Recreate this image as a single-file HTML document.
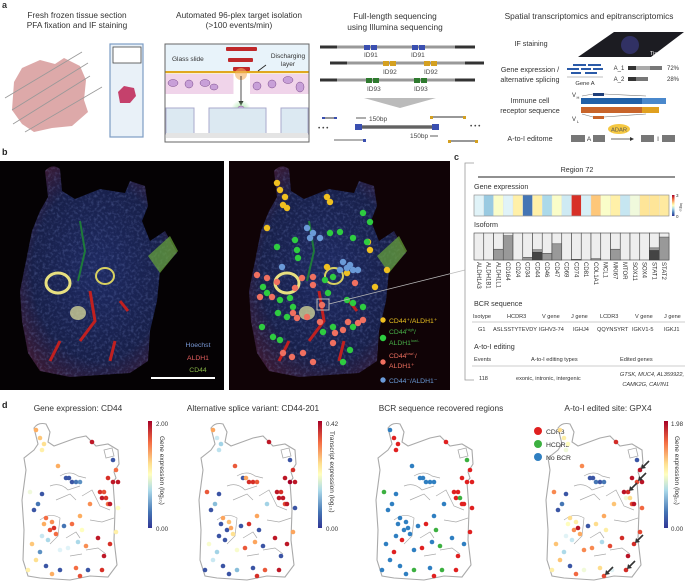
<!DOCTYPE html>
<html><head><meta charset="utf-8"><style>
html,body{margin:0;padding:0;background:#fff}
svg{display:block;font-family:"Liberation Sans",sans-serif}
</style></head><body>
<svg id="fig" width="685" height="584" viewBox="0 0 685 584">
<defs>
<linearGradient id="cbar" x1="0" y1="0" x2="0" y2="1">
<stop offset="0" stop-color="#a50026"/><stop offset="0.2" stop-color="#f46d43"/><stop offset="0.4" stop-color="#fee090"/><stop offset="0.5" stop-color="#ffffbf"/><stop offset="0.65" stop-color="#abd9e9"/><stop offset="0.85" stop-color="#4575b4"/><stop offset="1" stop-color="#313695"/>
</linearGradient>
<radialGradient id="tisg" cx="0.5" cy="0.5" r="0.6"><stop offset="0" stop-color="#1e2a62"/><stop offset="0.7" stop-color="#18204a"/><stop offset="1" stop-color="#3a1a34"/></radialGradient>
<radialGradient id="glow" cx="0.5" cy="0.5" r="0.5"><stop offset="0" stop-color="#9fe39f"/><stop offset="1" stop-color="#9fe39f" stop-opacity="0"/></radialGradient>
<filter id="tex"><feTurbulence type="fractalNoise" baseFrequency="0.35" numOctaves="2" seed="3"/><feColorMatrix values="0 0 0 0 0.3  0 0 0 0 0.4  0 0 0 0 0.85  0 0 0 1.1 -0.5"/><feComposite in2="SourceGraphic" operator="in"/></filter>
<g id="tissueB">
<path d="M45 10 Q52 2 60 8 L62 30 L75 38 L100 28 L125 32 L130 20 L145 25 L148 45 L142 60 L150 80 L165 70 L177 92 L160 110 L157 140 L150 170 L148 200 L130 212 L100 214 L70 216 L40 210 L28 192 L22 160 L20 130 L26 100 L32 70 L40 50 L48 36 Z" fill="url(#tisg)"/>
<path d="M45 10 Q52 2 60 8 L62 30 L75 38 L100 28 L125 32 L130 20 L145 25 L148 45 L142 60 L150 80 L165 70 L177 92 L160 110 L157 140 L150 170 L148 200 L130 212 L100 214 L70 216 L40 210 L28 192 L22 160 L20 130 L26 100 L32 70 L40 50 L48 36 Z" fill="#fff" filter="url(#tex)" opacity="0.55"/>
<path d="M148 95 L170 75 L178 90 L160 112 Z" fill="#6aa83a" opacity="0.7"/>
<ellipse cx="58" cy="122" rx="12" ry="10" fill="none" stroke="#e8e080" stroke-width="3"/>
<ellipse cx="78" cy="152" rx="8" ry="7" fill="#e8e8a0" opacity="0.7"/>
<ellipse cx="105" cy="115" rx="9" ry="8" fill="none" stroke="#d8d060" stroke-width="2"/>
<path d="M90 130 L95 160 L80 180 M60 180 L50 200 M110 200 L115 180 M120 140 L128 150" stroke="#c02020" stroke-width="3" fill="none"/>
<path d="M80 60 L85 90 L78 120" stroke="#1e7a3a" stroke-width="2" fill="none"/>
</g>
<g id="tisD" fill="none" stroke="#aaa" stroke-width="1.1">
<path d="M14 8 Q18 2 26 4 L30 12 L28 22 L34 26 L56 18 L66 16 L76 26 L88 24 L98 30 L99 44 L94 52 L96 58 L93 62 L95 90 L94 120 L97 145 L88 157 L70 156 L50 160 L20 158 L8 156 L3 140 L4 110 L2 80 L6 50 L4 38 L14 30 L18 24 L16 16 Z"/>
<path d="M84 30 L92 28 L94 36 L86 38 Z" stroke-width="0.8"/>
<path d="M40 56 Q50 50 58 56 L66 58 M30 66 Q40 62 48 70 L60 66 M36 80 L50 74 L56 80 M62 76 L72 70 L80 86 L90 90 M70 100 L82 102 L94 98 M20 100 Q30 92 40 98 L38 116 L30 124 M46 118 L56 112 L60 118 M66 130 L78 128 L86 134 M50 136 L62 134" stroke-width="0.7"/>
</g>
</defs>

<!-- PANEL A -->
<g fill="#333" font-size="8.3">
<text x="2" y="8" font-weight="bold" font-size="9">a</text>
<text x="77" y="18" text-anchor="middle">Fresh frozen tissue section</text>
<text x="77" y="28" text-anchor="middle">PFA fixation and IF staining</text>
<text x="239" y="18" text-anchor="middle">Automated 96-plex target isolation</text>
<text x="239" y="28" text-anchor="middle">(&gt;100 events/min)</text>
<text x="395" y="19" text-anchor="middle">Full-length sequencing</text>
<text x="395" y="30" text-anchor="middle">using Illumina sequencing</text>
<text x="589" y="19" text-anchor="middle">Spatial transcriptomics and epitranscriptomics</text>
</g>
<g>
<path d="M14 82 L22 68 L40 60 L55 64 L64 58 L80 66 L86 80 L84 100 L88 112 L72 126 L52 128 L34 132 L22 124 L12 110 Z" fill="#d79a9a" opacity="0.85"/>
<g stroke="#999" stroke-width="0.8"><line x1="5" y1="98" x2="82" y2="52"/><line x1="12" y1="110" x2="88" y2="63"/><line x1="13" y1="124" x2="90" y2="76"/><line x1="25" y1="132" x2="102" y2="87"/></g>
</g>
<g>
<rect x="110" y="44" width="33" height="93" fill="#e9f1f8" stroke="#7d9cc4" stroke-width="1.2"/>
<rect x="113" y="47" width="28" height="16" fill="#fff" stroke="#444" stroke-width="0.8"/>
<path d="M118 92 L124 86 L134 88 L136 96 L130 103 L120 103 Z" fill="#c5416c"/>
</g>
<g>
<rect x="165" y="44" width="144" height="98" fill="#fff" stroke="#666"/>
<rect x="165.5" y="44.5" width="143" height="27" fill="#e8f3fa"/>
<rect x="165.5" y="71" width="143" height="2.2" fill="#e0a820"/>
<rect x="165.5" y="74" width="68" height="20" fill="#f0d4ea"/>
<rect x="250" y="74" width="58.5" height="20" fill="#f0d4ea"/>
<g fill="#c8a0d8" stroke="#7a4a8a" stroke-width="0.5"><ellipse cx="173" cy="83" rx="5" ry="3.5"/><ellipse cx="189" cy="84" rx="4" ry="4"/><ellipse cx="205" cy="83" rx="5" ry="3.5"/><ellipse cx="214" cy="87" rx="4" ry="3"/><ellipse cx="257" cy="86" rx="4" ry="4"/><ellipse cx="272" cy="84" rx="4" ry="4"/><ellipse cx="288" cy="80" rx="5" ry="3.5"/><ellipse cx="300" cy="87" rx="4" ry="5"/></g>
<g fill="#c0282a"><rect x="226" y="47" width="31" height="4" rx="1"/><rect x="228" y="58" width="25" height="4" rx="1"/><rect x="233" y="67" width="17" height="4" rx="1"/></g>
<circle cx="241" cy="74" r="6" fill="#f5b060" opacity="0.6"/>
<line x1="241" y1="76" x2="241" y2="103" stroke="#222" stroke-width="0.8"/><path d="M238.5 101 L241 106 L243.5 101 Z" fill="#222"/>
<circle cx="241" cy="110" r="10" fill="url(#glow)"/><circle cx="241" cy="110" r="4" fill="#d0b0e0" stroke="#7a4a8a" stroke-width="0.5"/>
<g fill="#dce9f2" stroke="#aac"><rect x="166" y="108" width="28" height="26"/><rect x="209" y="108" width="57" height="26"/><rect x="281" y="108" width="27" height="26"/></g>
<rect x="166" y="133" width="142" height="5" fill="#e4e4e4"/>
<text x="172" y="61" font-size="6.5" fill="#333">Glass slide</text>
<text x="288" y="58" font-size="6.5" fill="#333" text-anchor="middle">Discharging</text>
<text x="288" y="66" font-size="6.5" fill="#333" text-anchor="middle">layer</text>
<line x1="266" y1="65" x2="258" y2="71" stroke="#222" stroke-width="0.8"/>
</g>
<g font-size="6.5" fill="#444">
<g stroke-width="3"><line x1="320" y1="47" x2="337" y2="47" stroke="#333"/><line x1="337" y1="47" x2="455" y2="47" stroke="#999"/><line x1="455" y1="47" x2="475" y2="47" stroke="#333"/>
<line x1="330" y1="63" x2="347" y2="63" stroke="#333"/><line x1="347" y1="63" x2="465" y2="63" stroke="#999"/><line x1="465" y1="63" x2="484" y2="63" stroke="#333"/>
<line x1="320" y1="80" x2="337" y2="80" stroke="#333"/><line x1="337" y1="80" x2="455" y2="80" stroke="#999"/><line x1="455" y1="80" x2="475" y2="80" stroke="#333"/></g>
<g fill="#3a4fb0"><rect x="364" y="45" width="6" height="5"/><rect x="371" y="45" width="6" height="5"/><rect x="412" y="45" width="6" height="5"/><rect x="419" y="45" width="6" height="5"/></g>
<g fill="#d4a020"><rect x="383" y="61" width="6" height="5"/><rect x="390" y="61" width="6" height="5"/><rect x="424" y="61" width="6" height="5"/><rect x="431" y="61" width="6" height="5"/></g>
<g fill="#2e7a2e"><rect x="366" y="78" width="6" height="5"/><rect x="373" y="78" width="6" height="5"/><rect x="414" y="78" width="6" height="5"/><rect x="421" y="78" width="6" height="5"/></g>
<text x="364" y="57">ID91</text><text x="411" y="57">ID91</text>
<text x="383" y="74">ID92</text><text x="424" y="74">ID92</text>
<text x="367" y="91">ID93</text><text x="414" y="91">ID93</text>
<path d="M364 98 L436 98 L400 108 Z" fill="#bbb"/>
<line x1="324" y1="118" x2="336" y2="118" stroke="#777" stroke-width="1.5"/><rect x="322" y="117" width="3" height="2" fill="#3a4fb0"/><rect x="334" y="117" width="3" height="2" fill="#3a4fb0"/>
<line x1="356" y1="118" x2="366" y2="118" stroke="#333" stroke-width="0.8"/><text x="369" y="121">150bp</text>
<line x1="358" y1="127" x2="436" y2="127" stroke="#222" stroke-width="3"/><line x1="358" y1="127" x2="436" y2="127" stroke="#ccc" stroke-width="0.8"/><rect x="355" y="124" width="7" height="6" fill="#3a4fb0"/><rect x="432" y="124" width="7" height="6" fill="#3a4fb0"/>
<text x="410" y="138">150bp</text><line x1="430" y1="136" x2="438" y2="136" stroke="#333" stroke-width="0.8"/>
<line x1="432" y1="117" x2="464" y2="117" stroke="#777" stroke-width="1.5"/><rect x="430" y="116" width="3" height="3" fill="#d4a020"/><rect x="463" y="116" width="3" height="3" fill="#d4a020"/>
<line x1="449" y1="141" x2="476" y2="141" stroke="#777" stroke-width="1.5"/><rect x="448" y="140" width="3" height="3" fill="#d4a020"/><rect x="475" y="140" width="3" height="3" fill="#d4a020"/>
<line x1="334" y1="140" x2="365" y2="140" stroke="#999" stroke-width="1.5"/><rect x="363" y="139" width="3" height="3" fill="#3a4fb0"/>
<text x="318" y="130">• • •</text><text x="470" y="128">• • •</text>
</g>
<g font-size="7.2" fill="#333" text-anchor="middle">
<text x="531" y="46">IF staining</text>
<path d="M578 57 L614 32 L684 32 L651 57 Z" fill="#1c1c22"/><circle cx="630" cy="45" r="9" fill="#3a3a80" opacity="0.7"/>
<text x="658" y="55" font-size="5.5" fill="#fff">Tissue</text>
<text x="530" y="72">Gene expression /</text><text x="530" y="82">alternative splicing</text>
<g fill="#2a5aa8"><rect x="573" y="64" width="13" height="2"/><rect x="588" y="64" width="13" height="2"/><rect x="567" y="68" width="12" height="2"/><rect x="581" y="68" width="10" height="2"/><rect x="593" y="68" width="10" height="2"/><rect x="571" y="72" width="10" height="2"/><rect x="585" y="72" width="12" height="2"/></g>
<line x1="567" y1="77" x2="603" y2="77" stroke="#aaa" stroke-width="0.8"/>
<text x="585" y="85" font-size="5.8">Gene A</text>
<text x="619" y="70" font-size="6">A_1</text><text x="619" y="81" font-size="6">A_2</text>
<rect x="628" y="66" width="8" height="4" fill="#333"/><rect x="636" y="66" width="14" height="4" fill="#aaa"/><rect x="650" y="66" width="12" height="4" fill="#777"/>
<rect x="628" y="77" width="8" height="4" fill="#333"/><rect x="636" y="77" width="12" height="4" fill="#777"/>
<text x="673" y="70" font-size="6">72%</text><text x="673" y="81" font-size="6">28%</text>
<text x="530" y="103">Immune cell</text><text x="530" y="113">receptor sequence</text>
<text x="574" y="97" font-size="6">V</text><text x="578" y="99" font-size="4">H</text>
<rect x="593" y="93" width="11" height="3" fill="#1f3f7a"/><path d="M582 96 L593 94 M604 94 L646 96" stroke="#777" stroke-width="0.6"/>
<rect x="581" y="98" width="61" height="6" fill="#2060a8"/><rect x="642" y="98" width="24" height="6" fill="#4a88cc"/>
<rect x="581" y="107" width="61" height="6" fill="#c8642a"/><rect x="642" y="107" width="17" height="6" fill="#e0a020"/>
<rect x="593" y="116" width="11" height="3" fill="#c8642a"/><path d="M582 114 L593 117 M604 117 L646 114" stroke="#777" stroke-width="0.6"/>
<text x="574" y="121" font-size="6">V</text><text x="578" y="123" font-size="4">L</text>
<text x="530" y="141">A-to-I editome</text>
<rect x="571" y="135" width="14" height="7" fill="#777"/><text x="589" y="141" font-size="6.5">A</text><rect x="593" y="135" width="12" height="7" fill="#777"/>
<line x1="611" y1="139" x2="632" y2="139" stroke="#333" stroke-width="0.8"/><path d="M630 137 L634 139 L630 141 Z" fill="#333"/>
<ellipse cx="619" cy="129" rx="11" ry="5" fill="#f5c842"/><text x="619" y="131.5" font-size="5.8" fill="#555">ADAR</text>
<rect x="641" y="135" width="13" height="7" fill="#777"/><text x="658" y="141" font-size="6.5">I</text><rect x="662" y="135" width="13" height="7" fill="#777"/>
</g>

<!-- PANEL B -->
<text x="2" y="155" font-weight="bold" font-size="9" fill="#222">b</text>
<g>
<rect x="0" y="161" width="224" height="229" fill="#050204"/>
<use href="#tissueB" x="0" y="161"/>
<text x="198" y="347" font-size="6.8" fill="#7a9ad8" text-anchor="middle">Hoechst</text>
<text x="198" y="360" font-size="6.8" fill="#e86060" text-anchor="middle">ALDH1</text>
<text x="198" y="372" font-size="6.8" fill="#8ab848" text-anchor="middle">CD44</text>
<rect x="151" y="377" width="64" height="2" fill="#fff"/>
</g>
<g>
<rect x="229" y="161" width="221" height="229" fill="#100306"/>
<use href="#tissueB" x="229" y="161"/>
<g id="bdots"></g>
<rect x="317" y="299" width="12" height="11" fill="none" stroke="#bbb" stroke-width="1"/>
<line x1="329" y1="304" x2="465" y2="270" stroke="#bbb" stroke-width="0.8"/>
<g font-size="6.8">
<circle cx="383" cy="320" r="2.7" fill="#f0c020"/><text x="389" y="323" fill="#e8c020">CD44⁺/ALDH1⁺</text>
<circle cx="383" cy="338" r="2.7" fill="#2ecc40"/><text x="389" y="334" fill="#48b048">CD44<tspan font-size="4" dy="-3">high</tspan><tspan dy="3">/</tspan></text><text x="389" y="345" fill="#48b048">ALDH1<tspan font-size="4" dy="-3">low/-</tspan></text>
<circle cx="383" cy="362" r="2.7" fill="#f07060"/><text x="389" y="358" fill="#f07060">CD44<tspan font-size="4" dy="-3">low/-</tspan><tspan dy="3">/</tspan></text><text x="389" y="368" fill="#f07060">ALDH1⁺</text>
<circle cx="383" cy="380" r="2.7" fill="#6a9ad8"/><text x="389" y="383" fill="#6a9ad8">CD44⁻/ALDH1⁻</text>
</g>
</g>

<!-- PANEL C -->
<g fill="#333">
<text x="454" y="160" font-weight="bold" font-size="9">c</text>
<path d="M474 163 L465 163 L465 380 L474 380" fill="none" stroke="#999" stroke-width="0.8"/>
<text x="577" y="172" font-size="7.2" text-anchor="middle">Region 72</text>
<line x1="478" y1="177" x2="675" y2="177" stroke="#222" stroke-width="0.9"/>
<text x="474" y="189" font-size="7.2">Gene expression</text>
<g id="heat"></g>
<rect x="672" y="195" width="2.5" height="21" fill="url(#cbar)"/>
<text x="676" y="197" font-size="4.5">3</text><text x="676" y="218" font-size="4.5">0</text>
<text x="0" y="0" font-size="4" transform="translate(680,203) rotate(90)">log₁₀</text>
<text x="474" y="227" font-size="7.2">Isoform</text>
<g id="iso"></g>
<g id="isolab" font-size="6"></g>
<text x="474" y="306" font-size="7.2">BCR sequence</text>
<g font-size="5.6">
<text x="473" y="318">Isotype</text><text x="507" y="318">HCDR3</text><text x="542" y="318">V gene</text><text x="571" y="318">J gene</text><text x="600" y="318">LCDR3</text><text x="635" y="318">V gene</text><text x="664" y="318">J gene</text>
<line x1="472" y1="322" x2="685" y2="322" stroke="#999" stroke-width="0.6"/>
<text x="478" y="331">G1</text><text x="493" y="331" textLength="44">ASLSSTYTEVDY</text><text x="539" y="331">IGHV3-74</text><text x="573" y="331">IGHJ4</text><text x="597" y="331">QQYNSYRT</text><text x="632" y="331">IGKV1-5</text><text x="664" y="331">IGKJ1</text>
</g>
<text x="474" y="349" font-size="7.2">A-to-I editing</text>
<g font-size="5.6">
<text x="474" y="361">Events</text><text x="531" y="361">A-to-I editing types</text><text x="620" y="361">Edited genes</text>
<line x1="472" y1="366" x2="685" y2="366" stroke="#999" stroke-width="0.6"/>
<text x="479" y="380">118</text><text x="516" y="380">exonic, intronic, intergenic</text>
<text x="684" y="376" text-anchor="end" font-style="italic">GTSK, MUC4, AL359922,</text>
<text x="669" y="386" text-anchor="end" font-style="italic">CAMK2G, CAVIN1</text>
</g>
</g>

<!-- PANEL D -->
<text x="2" y="408" font-weight="bold" font-size="9" fill="#222">d</text>
<g font-size="8.3" fill="#333" text-anchor="middle">
<text x="78" y="411">Gene expression: CD44</text>
<text x="253" y="411">Alternative splice variant: CD44-201</text>
<text x="441" y="411">BCR sequence recovered regions</text>
<text x="608" y="411">A-to-I edited site: GPX4</text>
</g>
<use href="#tisD" x="20" y="420"/><use href="#tisD" x="197" y="420"/><use href="#tisD" x="374" y="420"/><use href="#tisD" x="544" y="420"/>
<g><rect x="148" y="421" width="4" height="107" fill="url(#cbar)"/><text x="156" y="426" font-size="6.2" fill="#333">2.00</text><text x="156" y="531" font-size="6.2" fill="#333">0.00</text><text font-size="6.5" fill="#333" transform="translate(160,436) rotate(90)">Gene expression (log₁₀)</text></g>
<g><rect x="318" y="421" width="4" height="107" fill="url(#cbar)"/><text x="326" y="426" font-size="6.2" fill="#333">0.42</text><text x="326" y="531" font-size="6.2" fill="#333">0.00</text><text font-size="6.5" fill="#333" transform="translate(330,431) rotate(90)">Transcript expression (log₁₀)</text></g>
<g><rect x="664" y="421" width="4" height="107" fill="url(#cbar)"/><text x="671" y="426" font-size="6.2" fill="#333">1.98</text><text x="671" y="531" font-size="6.2" fill="#333">0.00</text><text font-size="6.5" fill="#333" transform="translate(675,436) rotate(90)">Gene expression (log₁₀)</text></g>
<g font-size="6.8" fill="#333">
<circle cx="538" cy="431" r="4" fill="#e02020"/><text x="546" y="434">CDR3</text>
<circle cx="538" cy="444" r="4" fill="#3cb040"/><text x="546" y="447">HCDR3</text>
<circle cx="538" cy="457" r="4" fill="#2f7fc1"/><text x="546" y="460">No BCR</text>
</g>
<g id="ddots"></g>
</svg>
<script>
// ---- panel c data ----
const genes = ["ALDH1A3","ALDH1B1","ALDH1L1","CD164","CD24","CD34","CD44","CD46","CD47","CD69","CD74","CD81","COL1A1","MCL1","MKI67","MTOR","SOX11","SOX4","STAT1","STAT2"];
const geneExpr = [1.2,0.8,1.45,1.2,1.65,0.3,1.65,0.9,1.45,1.1,2.7,1.15,1.95,1.45,1.65,1.05,1.35,1.75,1.75,1.7];
const isoDark = [0,0,0,0,0,0,0.28,0,0,0,0.02,0,0,0,0,0,0,0,0.35,0];
const isoMid = [0,0,0.4,0.9,0,0.1,0.1,0.25,0.6,0,0,0,0.05,0,0.4,0,0,0,0.1,0.85];
// ---- panel b annotated spots (x,y in image coords) ----
const bSpotX = [48,51,56,54,58,38,98,101,141,158,146,118,98,139, 134,141,111,101,124,138,48,66,68,69,104,96,99,118,124,134,34,38,51,61,64,49,58,33,44,51,94,104,124,121,114,154, 28,38,48,31,43,73,84,66,84,93,64,68,78,91,106,114,119,129,54,63,74,84,104,134,126, 78,84,91,114,121,124,118,53,81,111,129];
const bSpotY = [22,29,36,44,47,67,36,41,89,109,126,112,106,81, 52,61,71,72,77,81,86,79,89,97,116,119,132,139,142,146,126,132,139,137,146,152,156,166,176,179,171,166,166,189,201,177, 114,117,121,136,136,117,116,127,124,144,152,157,156,161,172,169,161,162,192,196,192,201,182,159,122, 67,72,77,101,104,109,107,106,77,109,109];
const bSpotType = [0,0,0,0,0,0,0,0,0,0,0,0,0,0, 1,1,1,1,1,1,1,1,1,1,1,1,1,1,1,1,1,1,1,1,1,1,1,1,1,1,1,1,1,1,1,1, 2,2,2,2,2,2,2,2,2,2,2,2,2,2,2,2,2,2,2,2,2,2,2,2,2, 3,3,3,3,3,3,3,3,3,3,3];
// ---- panel d spot data ----
const spotX = [16,20,24,22,38,72,93,96,88,93,98,46,49,52,56,60,80,84,82,86,88,90,70,60,98,10,22,18,14,26,32,24,30,36,22,28,34,12,44,52,62,58,48,66,78,84,90,96,16,26,40,56,68,82,32,60,8,40,20];
const spotY = [10,18,24,30,46,22,40,50,58,62,62,58,58,62,62,62,72,72,78,78,84,84,84,96,88,72,74,84,90,98,102,104,110,114,116,120,108,124,106,104,110,122,128,126,118,136,124,112,140,146,150,148,150,150,154,156,150,130,132];
const cd44Expr = [1.4,1.3,1.2,1.1,1.4,1.9,0.1,1.6,1.8,1.9,1.9,0.1,0.1,0.1,0.2,0.3,1.8,1.7,1.9,1.8,1.6,1.9,1.5,1.4,1.0,0.9,0.1,0.2,0.1,1.6,1.5,1.4,1.7,1.6,0.7,0.6,1.8,1.3,0.2,1.6,1.0,0.6,0.8,1.5,1.9,1.9,1.8,1.1,1.2,0.1,0.1,1.6,0.1,1.8,1.4,1.7,1.1,0.8,0.3];
const cd44v201 = [0.3,0.15,0.12,0.14,0.35,0.4,0.02,0.38,0.4,0.42,0.4,0.02,0.3,0.38,0.38,0.35,0.4,0.38,0.4,0.4,0.36,0.4,0.12,0.3,0.02,0.35,0.02,0.1,0.02,0.3,0.28,0.02,0.02,0.25,0.02,0.02,0.3,0.2,0.02,0.38,0.02,0.3,0.35,0.02,0.4,0.02,0.4,0.3,0.15,0.02,0.1,0.02,0.35,0.4,0.02,0.38,0.02,0.2,0.12];
const bcrCat = [2,0,0,0,2,0,1,0,0,0,0,2,2,2,2,2,0,0,0,1,0,0,2,2,0,1,2,2,2,2,2,2,2,2,2,0,2,2,2,0,1,2,0,1,2,0,2,0,2,2,1,2,1,0,2,0,2,2,0];
const gpx4Expr = [1.2,1.1,1.0,0.9,1.5,1.8,0.1,1.9,1.9,1.7,1.9,0.1,0.1,0.2,0.1,0.2,1.9,1.8,0.9,1.2,1.7,1.9,1.3,1.4,1.6,1.5,0.1,0.2,0.1,1.2,1.1,1.0,1.5,1.4,0.8,0.7,1.9,1.3,0.1,1.2,1.1,0.6,1.5,1.7,1.8,1.9,1.8,1.7,1.3,0.1,0.9,1.2,0.8,1.8,1.6,1.7,1.1,1.5,0.6];
const gpx4Arrows = [17,9,7,46,53,55];

const NS = "http://www.w3.org/2000/svg";
function mk(tag, attrs, parent){const e=document.createElementNS(NS,tag);for(const k in attrs)e.setAttribute(k,attrs[k]);parent.appendChild(e);return e;}
const stops = ["#313695","#4575b4","#74add1","#abd9e9","#e0f3f8","#ffffbf","#fee090","#fdae61","#f46d43","#d73027","#a50026"];
function hex(c){return [1,3,5].map(i=>parseInt(c.substr(i,2),16));}
function cmap(t){t=Math.max(0,Math.min(1,t));const p=t*(stops.length-1);const i=Math.min(Math.floor(p),stops.length-2);const f=p-i;const a=hex(stops[i]),b=hex(stops[i+1]);return "rgb("+a.map((v,k)=>Math.round(v+(b[k]-v)*f)).join(",")+")";}

// heatmap
const hx0=474, hx1=669, cw=(hx1-hx0)/genes.length;
const xCell = i => hx0 + i*cw;
const heat=document.getElementById('heat');
geneExpr.forEach((v,i)=>{
  const r=mk('rect',{x:xCell(i),y:195,width:cw,height:21,fill:cmap(v/3),stroke:'#ddd','stroke-width':0.3},heat);
  
  
});
mk('rect',{x:hx0,y:195,width:hx1-hx0,height:21,fill:'none',stroke:'#888','stroke-width':0.6},heat);
// isoform
const iso=document.getElementById('iso'), isoY0=233, isoH=27;
const yIso = f => isoY0 + isoH*(1-f);
genes.forEach((g,i)=>{
  const r=mk('rect',{x:xCell(i),y:isoY0,width:cw,height:isoH,fill:'#eeeeee',stroke:'#444','stroke-width':0.6},iso);
  
  
  const tot=isoDark[i]+isoMid[i];
  if(isoMid[i]>0) mk('rect',{x:xCell(i),y:yIso(tot),width:cw,height:isoH*isoMid[i],fill:'#999',stroke:'#444','stroke-width':0.5},iso);
  if(isoDark[i]>0) mk('rect',{x:xCell(i),y:yIso(isoDark[i]),width:cw,height:isoH*isoDark[i],fill:'#444',stroke:'#333','stroke-width':0.5},iso);
  const t=mk('text',{transform:`translate(${xCell(i)+cw/2-2},262) rotate(90)`,fill:'#333'},document.getElementById('isolab'));
  t.textContent=g;
  
  
});
// panel b dots
const bCol=["#f0c020","#2ecc40","#f07060","#6a9ad8"];
const bd=document.getElementById('bdots');
bSpotX.forEach((x,i)=>{
  const c=mk('circle',{cx:229+x,cy:161+bSpotY[i],r:3.2,fill:bCol[bSpotType[i]]},bd);
  
  
});
// panel d
const dd=document.getElementById('ddots');
const plotX0=[20,197,374,544], plotY0=420;
const px=(p,x)=>plotX0[p]+x, py=y=>plotY0+y;
const catCol=["#e02020","#3cb040","#2f7fc1"];
function drawPlot(p,colorFn,name){
  spotX.forEach((x,i)=>{
    const c=mk('circle',{cx:px(p,x),cy:py(spotY[i]),r:2.3,fill:colorFn(i)},dd);
    
    
  });
}
drawPlot(0,i=>cmap(cd44Expr[i]/2.0),'cd44-spot');
drawPlot(1,i=>cmap(cd44v201[i]/0.42),'cd44-201-spot');
drawPlot(2,i=>catCol[bcrCat[i]],'bcr-spot');
drawPlot(3,i=>cmap(gpx4Expr[i]/1.98),'gpx4-spot');
gpx4Arrows.forEach(i=>{
  const x=px(3,spotX[i]), y=py(spotY[i]);
  const l=mk('line',{x1:x+9,y1:y-9,x2:x+3,y2:y-3,stroke:'#333','stroke-width':1.6},dd);
  
  
  mk('path',{d:`M${x+1} ${y-1} L${x+6} ${y-2} L${x+2} ${y-6} Z`,fill:'#333'},dd);
});
</script>
</body></html>
